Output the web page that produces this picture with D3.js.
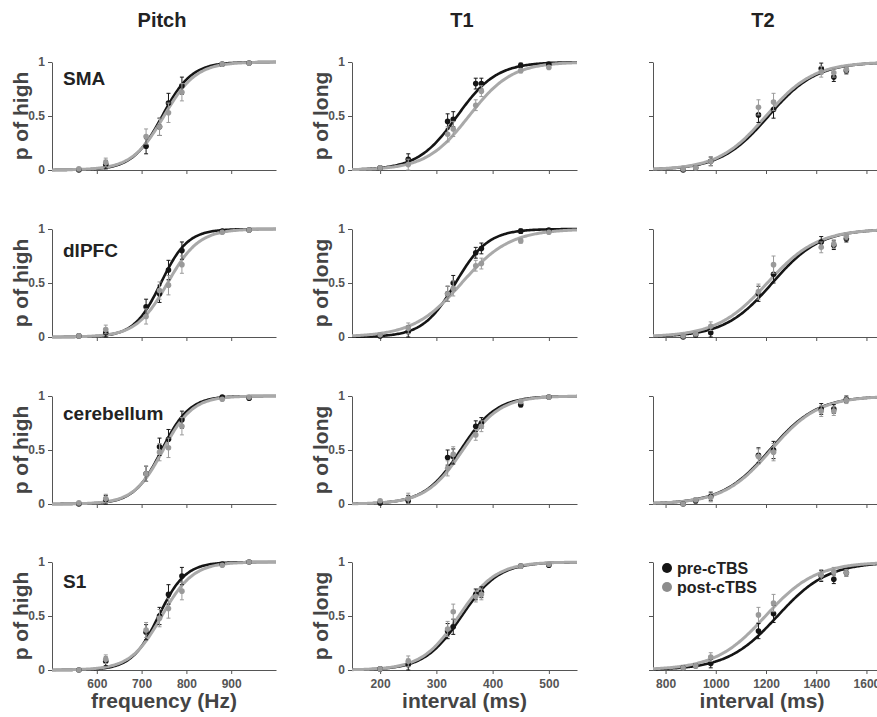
<!DOCTYPE html>
<html>
<head>
<meta charset="utf-8">
<title>cTBS psychometric curves</title>
<script src="https://d3js.org/d3.v7.min.js"></script>
<style>
  body { margin: 0; background: #fff; }
  svg { display: block; font-family: "Liberation Sans", Arial, sans-serif; }
  .axis path, .axis line { stroke: #555; stroke-width: 1; }
  .axis text { font-size: 12px; font-weight: bold; fill: #555; }
  .coltitle { font-size: 20px; font-weight: bold; fill: #222; }
  .ylabel, .xlabel { font-size: 21px; font-weight: bold; fill: #444; }
  .region { font-size: 19px; font-weight: bold; fill: #222; }
  .legend { font-size: 16px; font-weight: bold; fill: #222; }
</style>
</head>
<body>
<svg width="877" height="717"></svg>
<script>
// ---- data ----
const columns = ['Pitch', 'T1', 'T2'];
const regions = ['SMA', 'dlPFC', 'cerebellum', 'S1'];
const yLabels = ['p of high', 'p of long', ''];
const xLabels = ['frequency (Hz)', 'interval (ms)', 'interval (ms)'];
const xDomains = [[500, 1000], [150, 550], [750, 1650]];
const xTicks = [[600, 700, 800, 900], [200, 300, 400, 500], [800, 1000, 1200, 1400, 1600]];
const yTicks = [0, 0.5, 1];
const legendLabels = ['pre-cTBS', 'post-cTBS'];

const pitchLevels = [560, 620, 710, 740, 760, 790, 880, 940];
const t1Levels = [200, 250, 320, 330, 370, 380, 450, 500];
const t2Levels = [870, 920, 980, 1170, 1230, 1420, 1470, 1520];

// proportions, one row per region (SMA, dlPFC, cerebellum, S1)
const pitchPre = [
  [0.00, 0.05, 0.22, 0.40, 0.62, 0.78, 0.98, 0.99],
  [0.01, 0.04, 0.28, 0.40, 0.62, 0.80, 0.98, 0.99],
  [0.00, 0.04, 0.28, 0.53, 0.60, 0.78, 0.99, 0.98],
  [0.00, 0.08, 0.35, 0.50, 0.70, 0.87, 0.98, 1.00]
];
const pitchPost = [
  [0.01, 0.07, 0.31, 0.40, 0.53, 0.72, 0.98, 0.99],
  [0.01, 0.07, 0.19, 0.43, 0.48, 0.67, 0.97, 0.99],
  [0.01, 0.05, 0.28, 0.48, 0.52, 0.72, 0.97, 0.99],
  [0.00, 0.10, 0.37, 0.48, 0.57, 0.73, 0.97, 1.00]
];
const t1Pre = [
  [0.02, 0.10, 0.45, 0.47, 0.80, 0.80, 0.97, 0.98],
  [0.01, 0.05, 0.40, 0.50, 0.78, 0.82, 0.98, 0.99],
  [0.01, 0.03, 0.43, 0.44, 0.72, 0.75, 0.92, 0.99],
  [0.01, 0.05, 0.36, 0.40, 0.70, 0.72, 0.96, 0.97]
];
const t1Post = [
  [0.02, 0.05, 0.33, 0.38, 0.60, 0.73, 0.92, 0.95],
  [0.02, 0.08, 0.40, 0.45, 0.66, 0.68, 0.89, 0.97],
  [0.03, 0.05, 0.33, 0.46, 0.64, 0.72, 0.95, 0.99],
  [0.01, 0.08, 0.38, 0.54, 0.68, 0.70, 0.96, 0.98]
];
const t2Pre = [
  [0.00, 0.02, 0.08, 0.51, 0.56, 0.94, 0.86, 0.92],
  [0.00, 0.02, 0.04, 0.40, 0.58, 0.88, 0.85, 0.91],
  [0.00, 0.03, 0.07, 0.45, 0.50, 0.88, 0.88, 0.97],
  [0.02, 0.04, 0.06, 0.36, 0.52, 0.87, 0.84, 0.90]
];
const t2Post = [
  [0.01, 0.02, 0.08, 0.58, 0.63, 0.91, 0.90, 0.93],
  [0.01, 0.03, 0.10, 0.42, 0.67, 0.83, 0.86, 0.93],
  [0.00, 0.04, 0.06, 0.44, 0.48, 0.86, 0.86, 0.96],
  [0.02, 0.04, 0.12, 0.51, 0.62, 0.88, 0.91, 0.90]
];
// standard errors
const pitchErr = [0.01, 0.04, 0.07, 0.08, 0.09, 0.08, 0.01, 0.01];
const t1Err = [0.01, 0.05, 0.07, 0.07, 0.05, 0.05, 0.02, 0.01];
const t2Err = [0.01, 0.02, 0.04, 0.07, 0.08, 0.05, 0.04, 0.03];

// logistic fits [threshold, spread]
const pitchPreFit = [[746, 33], [743, 30], [745, 31], [738, 30]];
const pitchPostFit = [[750, 36], [758, 35], [748, 33], [745, 35]];
const t1PreFit = [[337, 35], [334, 29], [343, 32], [345, 33]];
const t1PostFit = [[358, 38], [345, 43], [347, 33], [340, 33]];
const t2PreFit = [[1210, 95], [1225, 95], [1215, 95], [1246, 100]];
const t2PostFit = [[1200, 95], [1205, 100], [1220, 95], [1198, 100]];

const levels = [pitchLevels, t1Levels, t2Levels];
const pre = [pitchPre, t1Pre, t2Pre];
const post = [pitchPost, t1Post, t2Post];
const errs = [pitchErr, t1Err, t2Err];
const preFit = [pitchPreFit, t1PreFit, t2PreFit];
const postFit = [pitchPostFit, t1PostFit, t2PostFit];

// ---- layout ----
const colX = [52, 352, 653];
const colW = [224, 225, 226];
const rowY = [62, 229, 396, 562];
const rowH = 108;
const regionDy = [23, 28, 24, 26];
const darkCol = '#151515', lightCol = '#a9a9a9', lightDot = '#9a9a9a';

const svg = d3.select('svg');

columns.forEach((c, ci) => {
  svg.append('text').attr('class', 'coltitle')
    .attr('x', colX[ci] + 110).attr('y', 27)
    .attr('text-anchor', 'middle').text(c);
});

const logistic = (p) => (x) => 1 / (1 + Math.exp(-(x - p[0]) / p[1]));

for (let ci = 0; ci < 3; ci++) {
  for (let ri = 0; ri < 4; ri++) {
    const g = svg.append('g').attr('transform', `translate(${colX[ci]},${rowY[ri]})`);
    const x = d3.scaleLinear().domain(xDomains[ci]).range([0, colW[ci]]);
    const y = d3.scaleLinear().domain([0, 1]).range([rowH, 0]);

    const xAxis = g.append('g').attr('class', 'axis')
      .attr('transform', `translate(0,${rowH})`)
      .call(d3.axisBottom(x).tickValues(xTicks[ci]).tickSize(4).tickSizeOuter(0).tickPadding(5)
        .tickFormat(d3.format('d')));
    if (ri < 3) xAxis.selectAll('text').remove();

    const yAxis = g.append('g').attr('class', 'axis')
      .call(d3.axisLeft(y).tickValues(yTicks).tickSize(4).tickSizeOuter(0).tickPadding(3)
        .tickFormat(d3.format('')));
    if (ci === 2) yAxis.selectAll('text').remove();

    const xs = d3.range(0, 201).map(i => xDomains[ci][0] + (xDomains[ci][1] - xDomains[ci][0]) * i / 200);
    const line = d3.line().x(d => x(d[0])).y(d => y(d[1]));
    const fPre = logistic(preFit[ci][ri]);
    const fPost = logistic(postFit[ci][ri]);

    g.append('path').datum(xs.map(v => [v, fPre(v)]))
      .attr('d', line).attr('fill', 'none').attr('stroke', darkCol).attr('stroke-width', 2.6);
    g.append('path').datum(xs.map(v => [v, fPost(v)]))
      .attr('d', line).attr('fill', 'none').attr('stroke', lightCol).attr('stroke-width', 3);

    const sets = [
      { vals: pre[ci][ri], col: darkCol },
      { vals: post[ci][ri], col: lightDot }
    ];
    sets.forEach(s => {
      const pts = levels[ci].map((lv, i) => ({ lv, v: s.vals[i], e: errs[ci][i] }));
      const eg = g.append('g').attr('stroke', s.col).attr('stroke-width', 1);
      eg.selectAll('line.v').data(pts).join('line')
        .attr('x1', d => x(d.lv)).attr('x2', d => x(d.lv))
        .attr('y1', d => y(Math.max(0, d.v - d.e))).attr('y2', d => y(Math.min(1, d.v + d.e)));
      eg.selectAll('line.t').data(pts).join('line')
        .attr('x1', d => x(d.lv) - 2).attr('x2', d => x(d.lv) + 2)
        .attr('y1', d => y(Math.min(1, d.v + d.e))).attr('y2', d => y(Math.min(1, d.v + d.e)));
      eg.selectAll('line.b').data(pts).join('line')
        .attr('x1', d => x(d.lv) - 2).attr('x2', d => x(d.lv) + 2)
        .attr('y1', d => y(Math.max(0, d.v - d.e))).attr('y2', d => y(Math.max(0, d.v - d.e)));
      g.selectAll(null).data(pts).join('circle')
        .attr('cx', d => x(d.lv)).attr('cy', d => y(d.v)).attr('r', 2.8)
        .attr('fill', s.col);
    });

    if (ci === 0) {
      g.append('text').attr('class', 'region')
        .attr('x', 11).attr('y', regionDy[ri]).text(regions[ri]);
    }
    if (yLabels[ci]) {
      g.append('text').attr('class', 'ylabel')
        .attr('transform', `translate(${-24},${rowH / 2}) rotate(-90)`)
        .attr('text-anchor', 'middle').text(yLabels[ci]);
    }
    if (ri === 3) {
      g.append('text').attr('class', 'xlabel')
        .attr('x', colW[ci] / 2 + (ci === 2 ? -4 : 0)).attr('y', rowH + 38)
        .attr('text-anchor', 'middle').text(xLabels[ci]);
    }
    if (ci === 2 && ri === 3) {
      const lg = g.append('g').attr('transform', 'translate(14,6)');
      legendLabels.forEach((l, i) => {
        lg.append('circle').attr('cx', 0).attr('cy', i * 19).attr('r', 5)
          .attr('fill', i === 0 ? darkCol : '#8c8c8c');
        lg.append('text').attr('class', 'legend')
          .attr('x', 10).attr('y', i * 19 + 5.5).text(l);
      });
    }
  }
}
</script>
</body>
</html>
